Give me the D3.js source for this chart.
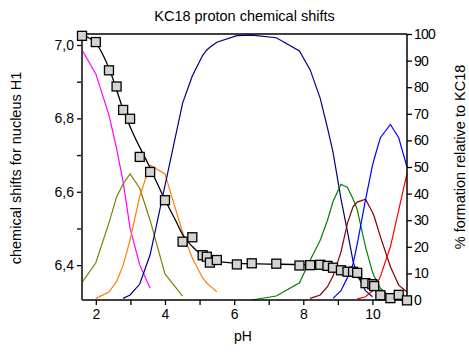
<!DOCTYPE html>
<html><head><meta charset="utf-8">
<script src="https://cdn.jsdelivr.net/npm/d3@7"></script>
<style>
html,body{margin:0;padding:0;background:#fff;}
svg{display:block;font-family:"Liberation Sans",Arial,sans-serif;}
</style></head>
<body><svg id="c" width="469" height="352"></svg>
<script>
// measured pH points (shared by shifts and species curves)
const pH = [1.60,2.00,2.38,2.60,2.79,2.99,3.27,3.57,4.00,4.51,4.79,5.09,5.21,5.30,5.50,6.08,6.51,7.22,7.89,8.20,8.49,8.70,8.86,9.09,9.28,9.44,9.56,9.80,10.00,10.05,10.23,10.52,10.76,11.00];
const shift = [7.025,7.008,6.931,6.887,6.823,6.799,6.695,6.654,6.577,6.464,6.476,6.427,6.423,6.407,6.414,6.402,6.405,6.404,6.399,6.400,6.401,6.398,6.393,6.386,6.382,6.382,6.379,6.351,6.348,6.343,6.318,6.310,6.319,6.304];
// fitted curve for the shifts
const fitPH    = [1.6,2.0,2.4,2.8,3.0,3.57,4.0,4.3,4.55,4.8,5.1,5.5,6.1,7.0,8.0,8.5,8.75,9.1,9.5,9.8,10.05,10.5,11.0];
const fitShift = [7.027,7.005,6.932,6.822,6.775,6.665,6.578,6.523,6.477,6.450,6.425,6.411,6.405,6.403,6.401,6.399,6.395,6.386,6.370,6.354,6.341,6.316,6.300];
// species distribution (% formation relative to KC18), null = not drawn
const _ = null;
const sMagenta = [94,85,69.5,57,44.4,27,13.2,4.4,_,_,_,_,_,_,_,_,_,_,_,_,_,_,_,_,_,_,_,_,_,_,_,_,_,_];
const sOlive   = [6.5,14,29,38.7,43.6,47.4,42,30,9.8,1.5,_,_,_,_,_,_,_,_,_,_,_,_,_,_,_,_,_,_,_,_,_,_,_,_];
const sOrange  = [_,0.6,3,7,13,22.5,39,50.7,47.4,25.4,15.8,8.3,6.4,5.3,3.1,_,_,_,_,_,_,_,_,_,_,_,_,_,_,_,_,_,_,_];
const sNavy    = [_,_,_,_,0.6,1.9,6,17,43,74,84.2,92,94,95,96.9,99.4,99.6,98.6,93.6,86.5,75.8,64.7,55.6,38,25.6,14.5,9.5,3.5,1.2,_,_,_,_,_];
const sGreen   = [_,_,_,_,_,_,_,_,_,_,_,_,_,_,_,_,0,1.5,6.5,15,22.5,30,37,43.5,42.3,38,34,20,10.6,9,4.4,1.2,0.6,0];
const sMaroon  = [_,_,_,_,_,_,_,_,_,_,_,_,_,_,_,_,_,_,_,0.6,1.9,5,9,18,29,35,36.8,37.9,33,31.5,23.8,12.5,5.6,3];
const sBlue    = [_,_,_,_,_,_,_,_,_,_,_,_,_,_,_,_,_,_,_,_,_,_,0.6,3.5,8.5,13.5,21,37.6,50.5,53,61,66,61,50];
const sRed     = [_,_,_,_,_,_,_,_,_,_,_,_,_,_,_,_,_,_,_,_,_,_,_,_,_,_,0.4,1.2,3.4,4,8.8,20,33.8,47.6];
const species = [
  {v:sMagenta,c:"#ff00ff"},{v:sOlive,c:"#808000"},{v:sOrange,c:"#ff8000"},{v:sNavy,c:"#000080"},
  {v:sGreen,c:"#008000"},{v:sMaroon,c:"#800000"},{v:sBlue,c:"#0000ff"},{v:sRed,c:"#ff0000"}
];
const xTicks = [2,4,6,8,10], xMinor=[3,5,7,9];
const yLTicks = [6.4,6.6,6.8,7.0], yLMinor=[6.5,6.7,6.9];
const yRTicks = [0,10,20,30,40,50,60,70,80,90,100];

const L=82,R=407,T=34,B=300;
const svg=d3.select("#c");
const x=d3.scaleLinear().domain([1.6,11]).range([L,R]);
const yL=d3.scaleLinear().domain([6.305,7.03]).range([B,T]);
const yR=d3.scaleLinear().domain([0,100]).range([B,T]);

// species curves
species.forEach(s=>{
  const line=d3.line().defined(d=>d[1]!==null).x(d=>x(d[0])).y(d=>yR(d[1]));
  svg.append("path").attr("d",line(pH.map((p,i)=>[p,s.v[i]])))
    .attr("fill","none").attr("stroke",s.c).attr("stroke-width",1.2);
});
// fit line
svg.append("path").attr("d",d3.line().curve(d3.curveMonotoneX).x(d=>x(d[0])).y(d=>yL(d[1]))(fitPH.map((p,i)=>[p,fitShift[i]])))
  .attr("fill","none").attr("stroke","#000").attr("stroke-width",1.3);

// axes
const fmtL=d=>d3.format(".1f")(d).replace(".",",");
const gx=svg.append("g").attr("transform",`translate(0,${B})`)
  .call(d3.axisBottom(x).tickValues(xTicks).tickSize(5).tickPadding(4).tickFormat(d3.format("d")));
svg.append("g").attr("transform",`translate(0,${B})`).call(d3.axisBottom(x).tickValues(xMinor).tickSize(5).tickFormat(""));
const gl=svg.append("g").attr("transform",`translate(${L},0)`)
  .call(d3.axisLeft(yL).tickValues(yLTicks).tickSize(5).tickPadding(3).tickFormat(fmtL));
svg.append("g").attr("transform",`translate(${L},0)`).call(d3.axisLeft(yL).tickValues(yLMinor).tickSize(5).tickFormat(""));
const gr=svg.append("g").attr("transform",`translate(${R},0)`)
  .call(d3.axisRight(yR).tickValues(yRTicks).tickSize(5).tickPadding(2).tickFormat(d3.format("d")));
svg.selectAll(".domain").remove();
svg.selectAll(".tick line").attr("stroke","#000").attr("stroke-width",1.3);
svg.selectAll(".tick text").attr("font-size",14).attr("font-family","Liberation Sans, Arial, sans-serif").attr("fill","#000");
gr.selectAll(".tick text").attr("letter-spacing",-0.8);
// frame lines
svg.append("line").attr("x1",L).attr("x2",R).attr("y1",T).attr("y2",T).attr("stroke","#000").attr("stroke-width",1.3);
svg.append("line").attr("x1",L).attr("x2",R).attr("y1",B).attr("y2",B).attr("stroke","#000").attr("stroke-width",1.5);
svg.append("line").attr("x1",L).attr("x2",L).attr("y1",T).attr("y2",B).attr("stroke","#444").attr("stroke-width",2);
svg.append("line").attr("x1",R).attr("x2",R).attr("y1",T).attr("y2",B).attr("stroke","#000").attr("stroke-width",1.5);

// squares
svg.append("g").selectAll("rect").data(pH.map((p,i)=>[p,shift[i]])).join("rect")
  .attr("x",d=>x(d[0])-4.5).attr("y",d=>yL(d[1])-4.5).attr("width",9).attr("height",9)
  .attr("fill","#d3d3d3").attr("stroke","#000").attr("stroke-width",1.3);

// titles
svg.append("text").attr("x",244.5).attr("y",21).attr("text-anchor","middle").attr("font-size",14.5).text("KC18 proton chemical shifts");
svg.append("text").attr("x",243).attr("y",341).attr("text-anchor","middle").attr("font-size",14).text("pH");
svg.append("text").attr("transform","translate(21,168) rotate(-90)").attr("text-anchor","middle").attr("font-size",14.5).text("chemical shifts for nucleus H1");
svg.append("text").attr("transform","translate(465,157) rotate(-90)").attr("text-anchor","middle").attr("font-size",14.5).text("% formation relative to KC18");
</script></body></html>
